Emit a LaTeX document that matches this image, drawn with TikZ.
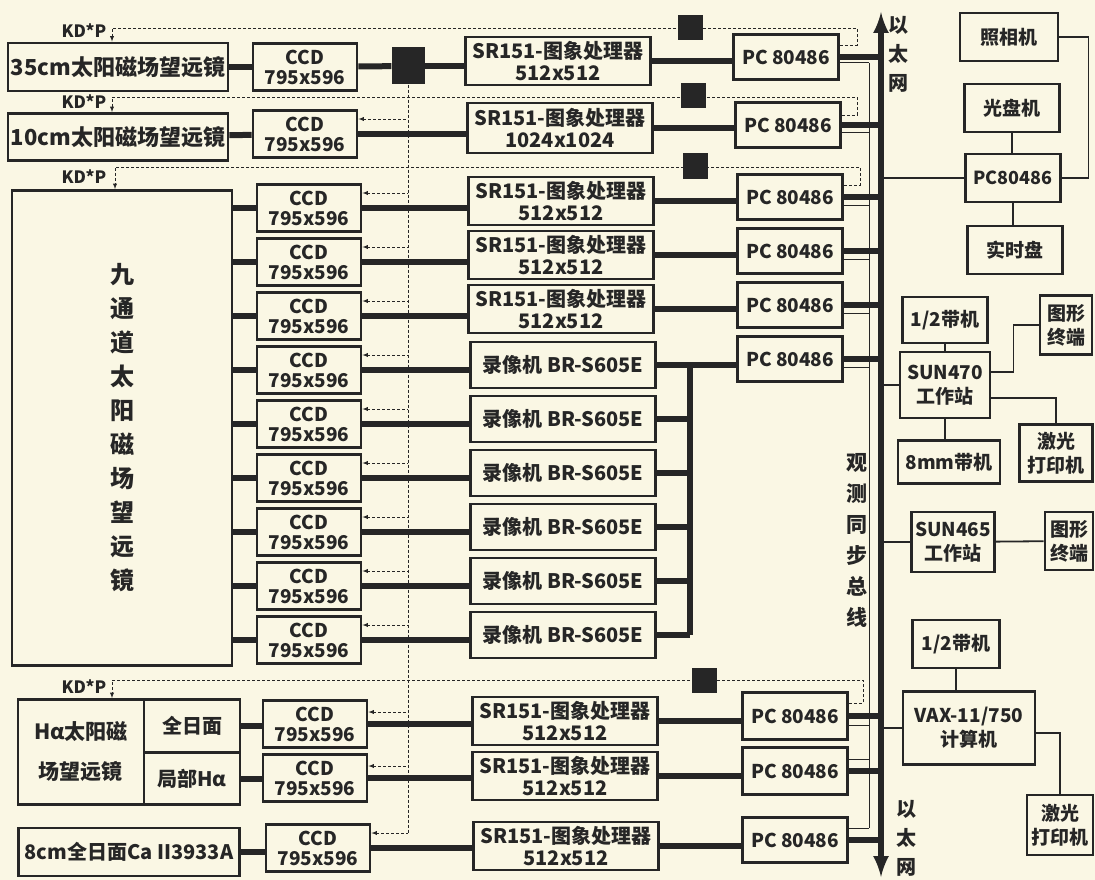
\documentclass[tikz,border=0pt]{standalone}
\usepackage{fontspec}
\setmainfont{Noto Sans CJK SC}
\usetikzlibrary{positioning}
\definecolor{paper}{RGB}{250,247,228}
\definecolor{ink}{RGB}{38,38,38}
\newcommand\setfs[2]{\fontsize{#1}{#2}\selectfont}

\begin{document}
\begin{tikzpicture}[x=1pt, y=-1pt, >=latex, node distance=54pt,
    unit/.style={draw=ink, line width=2.8pt, fill=paper, inner sep=0pt, align=center, text=ink, font=\bfseries\setfs{20}{22}},
    tel/.style={unit, minimum width=220pt, minimum height=48pt, font=\bfseries\setfs{22}{26}},
    ccd/.style={unit, minimum width=104pt, minimum height=47pt, font=\bfseries\setfs{19}{20}},
    sr/.style={unit, minimum width=185pt, minimum height=48pt},
    rec/.style={unit, minimum width=185pt, minimum height=46pt},
    pc/.style={unit, minimum width=105pt, minimum height=45pt, font=\bfseries\setfs{19}{20}},
    dev/.style={unit, minimum width=95pt, minimum height=48pt, font=\bfseries\setfs{19}{24}},
    blk/.style={fill=ink, inner sep=0pt, minimum size=25pt},
    tag/.style={text=ink, inner sep=0pt, font=\bfseries\setfs{17}{18}},
    vtext/.style={text=ink, align=center, inner sep=0pt, font=\bfseries\setfs{20}{29}},
    bus/.style={draw=ink, line width=6pt},
    link/.style={draw=ink, line width=1.8pt},
    sync/.style={draw=ink, line width=1pt},
    trig/.style={draw=ink, line width=0.9pt, densely dashed}]

  \fill [paper] (0,0) rectangle (1095,880);
  \useasboundingbox (0,0) rectangle (1095,880);

  \coordinate (e1) at (881,12);
  \coordinate (e2) at (881,877);
  \coordinate (sy) at (869,0);
  \coordinate (vb) at (690,0);

  \node (kd1) [tag]                     at (84,31)  {KD*P};
  \node (t1)  [tel]                     at (118,67) {35cm太阳磁场望远镜};
  \node (c1)  [ccd]                     at (305,67) {CCD\\795x596};
  \node (q1)  [blk, minimum width=33pt, minimum height=37pt] at (408,66) {};
  \node (s1)  [sr]                      at (558,61) {SR151-图象处理器\\512x512};
  \node (p1)  [pc]                      at (786,57) {PC 80486};
  \node (k1)  [blk]                     at (690,28) {};

  \node (kd2) [tag]                     at (84,102) {KD*P};
  \node (t2)  [tel, minimum height=47pt] at (118,137) {10cm太阳磁场望远镜};
  \node (c2)  [ccd]                     at (305,134) {CCD\\795x596};
  \node (s2)  [sr, minimum height=50pt] at (560,128) {SR151-图象处理器\\1024x1024};
  \node (p2)  [pc]                      at (788,125) {PC 80486};
  \node (k2)  [blk]                     at (693,96)  {};

  \node (kd3) [tag]                     at (84,177) {KD*P};
  \node (t3)  [tel, minimum height=475pt, font=\bfseries\setfs{24}{34}] at (122,428)
              {九\\通\\道\\太\\阳\\磁\\场\\望\\远\\镜};
  \node (k3)  [blk]                     at (695,166) {};
  \node (n1)  [ccd]                     at (309,208) {CCD\\795x596};
  \node (n2)  [ccd, below of=n1]        {CCD\\795x596};
  \node (n3)  [ccd, below of=n2]        {CCD\\795x596};
  \node (n4)  [ccd, below of=n3]        {CCD\\795x596};
  \node (n5)  [ccd, below of=n4]        {CCD\\795x596};
  \node (n6)  [ccd, below of=n5]        {CCD\\795x596};
  \node (n7)  [ccd, below of=n6]        {CCD\\795x596};
  \node (n8)  [ccd, below of=n7]        {CCD\\795x596};
  \node (n9)  [ccd, below of=n8]        {CCD\\795x596};
  \node (s3)  [sr]                      at (561,201) {SR151-图象处理器\\512x512};
  \node (s4)  [sr, below of=s3]         {SR151-图象处理器\\512x512};
  \node (s5)  [sr, below of=s4]         {SR151-图象处理器\\512x512};
  \node (r1)  [rec]                     at (563,365) {录像机 BR-S605E};
  \node (r2)  [rec, below of=r1]        {录像机 BR-S605E};
  \node (r3)  [rec, below of=r2]        {录像机 BR-S605E};
  \node (r4)  [rec, below of=r3]        {录像机 BR-S605E};
  \node (r5)  [rec, below of=r4]        {录像机 BR-S605E};
  \node (r6)  [rec, below of=r5]        {录像机 BR-S605E};
  \node (p3)  [pc]                      at (790,197) {PC 80486};
  \node (p4)  [pc, below of=p3]         {PC 80486};
  \node (p5)  [pc, below of=p4]         {PC 80486};
  \node (p6)  [pc, below of=p5]         {PC 80486};

  \node (kd4) [tag]                     at (84,687) {KD*P};
  \node (k4)  [blk]                     at (704,680) {};
  \node (hl)  [unit, minimum width=126pt, minimum height=105pt, font=\bfseries\setfs{21}{40}] at (81,752)
              {Hα太阳磁\\场望远镜};
  \node (ha)  [unit, minimum width=96pt, minimum height=52.5pt] at (192,726)   {全日面};
  \node (hb)  [unit, minimum width=96pt, minimum height=52.5pt] at (192,778.5) {局部Hα};
  \node (c3)  [ccd]                     at (315,724) {CCD\\795x596};
  \node (c4)  [ccd]                     at (315,778) {CCD\\795x596};
  \node (s6)  [sr]                      at (565,721) {SR151-图象处理器\\512x512};
  \node (s7)  [sr]                      at (565,776) {SR151-图象处理器\\512x512};
  \node (p7)  [pc, minimum height=47pt] at (795,716) {PC 80486};
  \node (p8)  [pc, minimum height=47pt] at (795,771) {PC 80486};

  \node (tc)  [tel, minimum width=221pt, font=\bfseries\setfs{20}{24}] at (129,852) {8cm全日面Ca II3933A};
  \node (c5)  [ccd]                     at (318,848) {CCD\\795x596};
  \node (s8)  [sr]                      at (566,846) {SR151-图象处理器\\512x512};
  \node (p9)  [pc]                      at (795,840) {PC 80486};

  \node (en1) [vtext]                   at (898,54)  {以\\太\\网};
  \node (en2) [vtext]                   at (906,838) {以\\太\\网};
  \node (gb)  [vtext, font=\bfseries\setfs{21}{31}] at (857,540) {观\\测\\同\\步\\总\\线};

  \node (cam) [dev, minimum width=98pt]  at (1009,37)  {照相机};
  \node (cd)  [dev]                      at (1012,108) {光盘机};
  \node (pw)  [dev, font=\bfseries\setfs{18}{20}] at (1013,178) {PC80486};
  \node (rt)  [dev]                      at (1015,250) {实时盘};
  \node (h1)  [dev, minimum width=85pt, minimum height=46pt]  at (945,320)  {1/2带机};
  \node (w1)  [dev, minimum width=90pt, minimum height=66pt]  at (945,385)  {SUN470\\工作站};
  \node (mm)  [dev, minimum width=102pt, minimum height=43pt] at (949,462)  {8mm带机};
  \node (g1)  [dev, minimum width=52pt, minimum height=59pt]  at (1066,325) {图形\\终端};
  \node (l1)  [dev, minimum width=73pt, minimum height=57pt]  at (1056,453) {激光\\打印机};
  \node (w2)  [dev, minimum width=83pt, minimum height=60pt]  at (953,542)  {SUN465\\工作站};
  \node (g2)  [dev, minimum width=48pt, minimum height=58pt]  at (1069,541) {图形\\终端};
  \node (h2)  [dev, minimum width=87pt, minimum height=48pt]  at (956,644)  {1/2带机};
  \node (vx)  [dev, minimum width=132pt, minimum height=73pt] at (969,728)  {VAX-11/750\\计算机};
  \node (l2)  [dev, minimum width=66pt, minimum height=60pt]  at (1060,825) {激光\\打印机};

  \draw [bus, <->] (e1) -- (e2);
  \draw [sync] ([yshift=-6]p1.east -| sy) -- ([yshift=12]p9.east -| sy);

  \draw [bus] (t1) -- (c1);
  \draw [bus] (c1) -- (q1);
  \draw [bus] (q1.east) -- (q1.east -| s1.west);
  \draw [bus] (s1.east) -- (s1.east -| p1.west);
  \draw [bus] (p1.east) -- (p1.east -| e1);
  \draw [bus] (t2) -- (c2);
  \draw [bus] (c2.east) -- (c2.east -| s2.west);
  \draw [bus] (s2.east) -- (s2.east -| p2.west);
  \draw [bus] (p2.east) -- (p2.east -| e1);

  \draw [bus] (n1.west -| t3.east) -- (n1.west);
  \draw [bus] (n2.west -| t3.east) -- (n2.west);
  \draw [bus] (n3.west -| t3.east) -- (n3.west);
  \draw [bus] (n4.west -| t3.east) -- (n4.west);
  \draw [bus] (n5.west -| t3.east) -- (n5.west);
  \draw [bus] (n6.west -| t3.east) -- (n6.west);
  \draw [bus] (n7.west -| t3.east) -- (n7.west);
  \draw [bus] (n8.west -| t3.east) -- (n8.west);
  \draw [bus] (n9.west -| t3.east) -- (n9.west);
  \draw [bus] (n1.east) -- (n1.east -| s3.west);
  \draw [bus] (n2.east) -- (n2.east -| s4.west);
  \draw [bus] (n3.east) -- (n3.east -| s5.west);
  \draw [bus] (n4.east) -- (n4.east -| r1.west);
  \draw [bus] (n5.east) -- (n5.east -| r2.west);
  \draw [bus] (n6.east) -- (n6.east -| r3.west);
  \draw [bus] (n7.east) -- (n7.east -| r4.west);
  \draw [bus] (n8.east) -- (n8.east -| r5.west);
  \draw [bus] (n9.east) -- (n9.east -| r6.west);
  \draw [bus] (s3.east) -- (s3.east -| p3.west);
  \draw [bus] (s4.east) -- (s4.east -| p4.west);
  \draw [bus] (s5.east) -- (s5.east -| p5.west);
  \draw [bus] (r1.east) -- (r1.east -| p6.west);
  \draw [bus] (r1.east -| vb) -- (r6.east -| vb);
  \draw [bus] (r2.east) -- (r2.east -| vb);
  \draw [bus] (r3.east) -- (r3.east -| vb);
  \draw [bus] (r4.east) -- (r4.east -| vb);
  \draw [bus] (r5.east) -- (r5.east -| vb);
  \draw [bus] (r6.east) -- (r6.east -| vb);
  \draw [bus] (p3.east) -- (p3.east -| e1);
  \draw [bus] (p4.east) -- (p4.east -| e1);
  \draw [bus] (p5.east) -- (p5.east -| e1);
  \draw [bus] (p6.east) -- (p6.east -| e1);

  \draw [bus] (ha.east) -- (ha.east -| c3.west);
  \draw [bus] (hb.east) -- (hb.east -| c4.west);
  \draw [bus] (c3.east) -- (c3.east -| s6.west);
  \draw [bus] (c4.east) -- (c4.east -| s7.west);
  \draw [bus] (s6.east) -- (s6.east -| p7.west);
  \draw [bus] (s7.east) -- (s7.east -| p8.west);
  \draw [bus] (p7.east) -- (p7.east -| e1);
  \draw [bus] (p8.east) -- (p8.east -| e1);
  \draw [bus] (tc.east) -- (tc.east -| c5.west);
  \draw [bus] (c5.east) -- (c5.east -| s8.west);
  \draw [bus] (s8.east) -- (s8.east -| p9.west);
  \draw [bus] (p9.east) -- (p9.east -| e1);

  \draw [sync] ([yshift=-6]p1.east) -- ([yshift=-6]p1.east -| sy);
  \draw [sync] ([yshift=-8]p2.east) -- ([yshift=-8]p2.east -| sy);
  \draw [sync] ([yshift=-8]p3.east) -- ([yshift=-8]p3.east -| sy);
  \draw [sync] ([yshift=-8]p4.east) -- ([yshift=-8]p4.east -| sy);
  \draw [sync] ([yshift=-8]p5.east) -- ([yshift=-8]p5.east -| sy);
  \draw [sync] ([yshift=-8]p6.east) -- ([yshift=-8]p6.east -| sy);
  \draw [sync] ([yshift=-9]p7.east) -- ([yshift=-9]p7.east -| sy);
  \draw [sync] ([yshift=12]p8.east) -- ([yshift=12]p8.east -| sy);
  \draw [sync] ([yshift=12]p9.east) -- ([yshift=12]p9.east -| sy);

  \draw [trig, ->] ([yshift=12]p1.east) -| (857,28)  -| ([xshift=-6]t1.north);
  \draw [trig, ->] ([yshift=10]p2.east) -| (857,97)  -| ([xshift=-6]t2.north);
  \draw [trig, ->] ([yshift=12]p3.east) -| (860,167) -| ([xshift=-7]t3.north);
  \draw [trig, ->] ([yshift=13]p7.east) -| (863,680) -| ([xshift=31]hl.north);

  \draw [trig] (q1.south) -- ([yshift=15]c5.east -| q1.south);
  \draw [trig, <-] ([yshift=15]c2.east) -- ([yshift=15]c2.east -| q1.south);
  \draw [trig, <-] ([yshift=15]n1.east) -- ([yshift=15]n1.east -| q1.south);
  \draw [trig, <-] ([yshift=15]n2.east) -- ([yshift=15]n2.east -| q1.south);
  \draw [trig, <-] ([yshift=15]n3.east) -- ([yshift=15]n3.east -| q1.south);
  \draw [trig, <-] ([yshift=15]n4.east) -- ([yshift=15]n4.east -| q1.south);
  \draw [trig, <-] ([yshift=15]n5.east) -- ([yshift=15]n5.east -| q1.south);
  \draw [trig, <-] ([yshift=15]n6.east) -- ([yshift=15]n6.east -| q1.south);
  \draw [trig, <-] ([yshift=15]n7.east) -- ([yshift=15]n7.east -| q1.south);
  \draw [trig, <-] ([yshift=15]n8.east) -- ([yshift=15]n8.east -| q1.south);
  \draw [trig, <-] ([yshift=15]n9.east) -- ([yshift=15]n9.east -| q1.south);
  \draw [trig, <-] ([yshift=12]c3.east) -- ([yshift=12]c3.east -| q1.south);
  \draw [trig, <-] ([yshift=12]c4.east) -- ([yshift=12]c4.east -| q1.south);
  \draw [trig, <-] ([yshift=15]c5.east) -- ([yshift=15]c5.east -| q1.south);

  \draw [link] (cam.east) -- ++(29,0) |- (pw.east);
  \draw [link] (cd.south) -- (cd.south |- pw.north);
  \draw [link] (pw.south) -- (pw.south |- rt.north);
  \draw [link] (pw.west) -- (pw.west -| e1);
  \draw [link] (h1.south) -- (h1.south |- w1.north);
  \draw [link] (w1.south) -- (w1.south |- mm.north);
  \draw [link] (w1.west) -- (w1.west -| e1);
  \draw [link] ([yshift=13]w1.east) -- ++(22,0) |- (g1.west);
  \draw [link] ([yshift=-13]w1.east) -| (l1.north);
  \draw [link] (w2.west) -- (w2.west -| e1);
  \draw [link] (w2) -- (g2);
  \draw [link] (h2.south) -- (h2.south |- vx.north);
  \draw [link] (vx.west) -- (vx.west -| e1);
  \draw [link] ([yshift=-5]vx.east) -| (l2.north);
\end{tikzpicture}
\end{document}
